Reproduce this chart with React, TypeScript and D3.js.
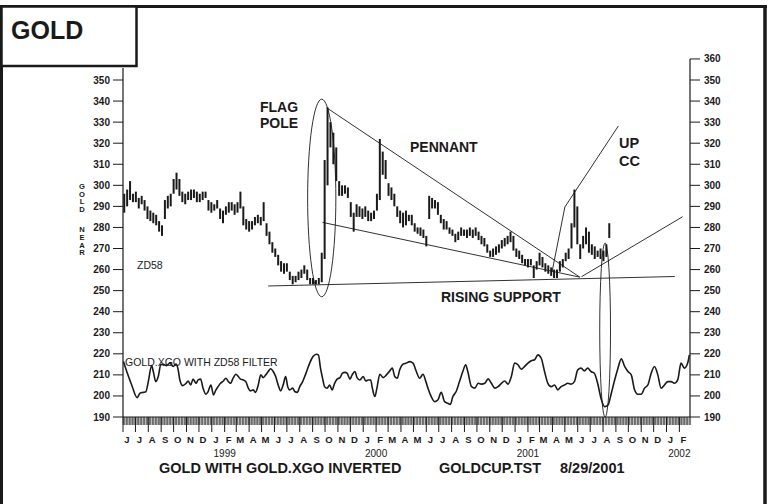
import React from 'react';
import * as d3 from 'd3';

// ---------- data ----------
const START = new Date(1998, 5, 1);
const END = new Date(2002, 2, 1);

// weekly bars (week k starts START + 7k days)
const weeklyLow = [
  287, 290, 293, 292, 292, 289, 291, 288, 284, 283, 282, 281, 278, 276, 284, 289, 290, 296, 298, 295,
  292, 291, 293, 293, 294, 292, 292, 293, 294, 288, 287, 288, 289, 284, 282, 286, 287, 288, 286, 287,
  289, 281, 279, 278, 279, 281, 282, 281, 283, 276, 272, 268, 266, 262, 259, 258, 259, 255, 253, 254,
  255, 256, 258, 255, 253, 253, 253, 253, 254, 265, 300, 318, 310, 302, 295, 295, 296, 294, 285, 278,
  285, 285, 284, 285, 283, 283, 284, 288, 293, 305, 303, 295, 293, 290, 285, 282, 280, 281, 283, 281,
  278, 277, 276, 275, 271, 284, 289, 289, 286, 282, 279, 279, 277, 276, 273, 274, 276, 276, 275, 276,
  275, 276, 274, 272, 271, 268, 266, 266, 267, 268, 270, 271, 272, 273, 269, 266, 265, 263, 262, 261,
  262, 256, 260, 262, 261, 259, 258, 257, 256, 256, 259, 261, 264, 265, 270, 280, 272, 265, 270, 272,
  268, 267, 265, 266, 265, 264, 266, 275,
];
const weeklyHigh = [
  296, 298, 302, 296, 297, 294, 295, 293, 290, 288, 287, 286, 283, 281, 293, 295, 296, 303, 306, 303,
  297, 296, 297, 298, 298, 297, 296, 297, 297, 293, 292, 291, 293, 289, 288, 290, 292, 292, 291, 292,
  297, 290, 284, 283, 283, 285, 286, 285, 292, 282, 278, 273, 270, 267, 264, 263, 263, 259, 257, 257,
  259, 260, 262, 260, 256, 256, 255, 256, 268, 312, 337, 330, 325, 318, 302, 300, 300, 299, 292, 287,
  291, 290, 289, 290, 288, 287, 288, 296, 322, 316, 312, 301, 299, 296, 290, 288, 287, 288, 286, 286,
  282, 280, 280, 279, 276, 295, 294, 293, 292, 286, 284, 283, 280, 279, 277, 278, 280, 279, 279, 280,
  279, 280, 278, 276, 275, 272, 269, 270, 271, 272, 274, 275, 276, 278, 276, 270, 269, 267, 265, 265,
  265, 262, 264, 268, 266, 263, 262, 261, 260, 260, 264, 265, 268, 270, 282, 298, 290, 272, 276, 280,
  278, 272, 271, 269, 270, 269, 272, 282,
];

// oscillator: day offset from START, value
const oscDay = [
  1, 9, 21, 34, 41, 49, 55, 61, 69, 73, 79, 85, 91, 97, 105, 113, 121, 128, 133, 137,
  144, 152, 157, 163, 169, 176, 181, 187, 193, 200, 205, 212, 218, 224, 229, 235, 242, 248, 254, 259,
  266, 272, 278, 283, 290, 296, 302, 307, 314, 319, 326, 332, 338, 344, 350, 356, 362, 368, 374, 380,
  386, 392, 397, 402, 409, 414, 420, 426, 433, 438, 444, 450, 458, 466, 471, 476, 481, 486, 492, 498,
  504, 510, 516, 523, 529, 535, 540, 547, 552, 559, 564, 571, 579, 585, 591, 597, 601, 607, 612,
  619, 627, 635, 643, 649, 655, 661, 667, 675, 683, 691, 699, 707, 715, 723, 730, 735, 743, 751, 759,
  767, 775, 783, 789, 795, 803, 811, 819, 826, 831, 840, 848, 856, 864, 872, 880, 888, 896, 904, 912,
  920, 928, 936, 944, 952, 960, 968, 976, 984, 992, 1000, 1008, 1016, 1024, 1032, 1040, 1048, 1056, 1064, 1072,
  1080, 1088, 1096, 1104, 1112, 1120, 1128, 1136, 1144, 1152, 1161, 1169, 1177, 1185, 1193, 1201, 1209, 1217, 1225, 1233,
  1241, 1249, 1257, 1265, 1273, 1281, 1289, 1297, 1305, 1313, 1321, 1329, 1337, 1345, 1353, 1361, 1365,
];
const oscVal = [
  216.3, 211.6, 205.2, 199.2, 201.3, 201.7, 202, 206.8, 214.4, 211.6, 206.8, 209.2, 214.8, 215, 214.4, 215.6, 214, 215.1, 212.4, 207.6,
  204.9, 206, 207.1, 205.2, 208, 206, 207.6, 208, 203.7, 200.8, 202, 205.2, 200.5, 202.9, 204.4, 206, 207.1, 208.4, 206.8, 206,
  208.7, 210.3, 209.2, 208, 207.6, 206.8, 203.7, 202.4, 202.9, 201.7, 205.2, 210, 208.7, 210, 211.6, 212.9, 211.6, 209.2, 205.2, 202.4,
  205.2, 209.2, 204.4, 202.9, 203.7, 202.1, 201.7, 204.4, 206.8, 209.2, 212.4, 215.6, 218.7, 219.8, 219.5, 213.2, 208.4, 204.4, 203.7, 205.2,
  202.9, 206, 208, 208.7, 210.8, 211.2, 210.8, 208, 209.9, 211.6, 208.7, 207.6, 209.2, 207.1, 207.6, 207.6, 203.7, 199.7, 203.7,
  210.3, 208.7, 210, 211.9, 213.2, 209.2, 208.4, 212.4, 215.1, 215.6, 216.3, 215.6, 211.6, 208.4, 210.3, 206.8, 203.7, 199.7, 197.3, 198.1,
  201.7, 197.3, 196.5, 196, 199.7, 202.1, 206.8, 211.6, 214.8, 211.6, 204.4, 203.7, 206, 205.6, 206, 208.1, 206, 203.7, 204.4, 206,
  207.1, 205.6, 209.2, 215.6, 214.8, 212.7, 214, 215.6, 216.7, 217.2, 219.5, 217.9, 211.6, 206, 204.4, 205.2, 202.9, 204.4, 205.2, 206,
  205.6, 206.8, 212.4, 213.2, 211.9, 213.2, 211.6, 210.8, 206, 198.9, 194.9, 195.7, 201.3, 207.6, 213.2, 217.6, 214, 211.6, 210, 202.9,
  200.8, 200.8, 203.7, 205.2, 210.8, 214, 210, 203.7, 205.2, 206.8, 206.8, 206, 207.6, 215.6, 213.2, 215.6, 219.5,
];

const leftTicks = [350, 340, 330, 320, 310, 300, 290, 280, 270, 260, 250, 240, 230, 220, 210, 200, 190];
const rightTicks = [360, 350, 340, 330, 320, 310, 300, 290, 280, 270, 260, 250, 240, 230, 220, 210, 200, 190];
const monthInitials = ['J', 'F', 'M', 'A', 'M', 'J', 'J', 'A', 'S', 'O', 'N', 'D'];
const yearLabels = ['1999', '2000', '2001', '2002'];
const axisTitleWords = ['GOLD', 'NEAR'];

// annotation anchors: [day offset, price]
const pennantUpper = [[491, 336.8], [1101, 256.4]];
const pennantLower = [[481, 282.4], [1101, 256.4]];
const risingSupport = [[350, 252.2], [1330, 256.7]];
const upCC = [[1034, 258.8], [1065, 289.7], [1194, 328.2]];
const riseLine = [[1105, 256.6], [1349, 285.1]];
const flagEllipse = { day: 479, price: 294, dDays: 34.5, dPrice: 46.9 };
const augEllipse = { day: 1162, price: 231.3, dDays: 13.3, dPrice: 41.3 };

const FONT = "'Liberation Sans', Arial, Helvetica, sans-serif";
const INK = '#1a1a1a';

export default function App() {
  const x = d3.scaleTime().domain([START, END]).range([123, 691]);
  const y = d3.scaleLinear().domain([190, 350]).range([417, 80]);
  const dd = (d: number) => d3.timeDay.offset(START, d);
  const px = (d: number) => x(dd(d));
  const pathOf = (pts: number[][]) =>
    d3.line<number[]>().x((p) => px(p[0])).y((p) => y(p[1]))(pts) || '';

  const oscPts = oscDay.map((d, i) => [d, oscVal[i]]);
  const oscPath = d3.line<number[]>().x((p) => px(p[0])).y((p) => y(p[1])).curve(d3.curveMonotoneX)(oscPts) || '';

  const days = d3.timeDay.range(START, END).filter((d) => d.getDay() !== 0 && d.getDay() !== 6);
  const months = d3.timeMonth.range(START, END);
  const years = months.filter((m) => m.getMonth() === 1);

  const ell = (e: { day: number; price: number; dDays: number; dPrice: number }) => ({
    cx: px(e.day),
    cy: y(e.price),
    rx: px(e.day + e.dDays) - px(e.day),
    ry: y(e.price - e.dPrice) - y(e.price),
  });
  const fe = ell(flagEllipse);
  const ae = ell(augEllipse);

  return (
    <svg width={768} height={504} style={{ position: 'absolute', left: 0, top: 0, background: '#fff' }} fontFamily={FONT}>
      <rect x={0} y={0} width={768} height={504} fill="#fff" />
      {/* frame */}
      <line x1={0} y1={6.5} x2={767} y2={6.5} stroke={INK} strokeWidth={3} />
      <line x1={1.5} y1={5} x2={1.5} y2={504} stroke={INK} strokeWidth={3} />
      <line x1={765} y1={5} x2={765} y2={504} stroke={INK} strokeWidth={3.5} />
      <rect x={1.5} y={6.5} width={135} height={59.5} fill="#fff" stroke={INK} strokeWidth={2.5} />
      <text x={11} y={39} fontSize={25} fontWeight="bold" fill={INK}>GOLD</text>

      {/* left axis */}
      <line x1={123} y1={68} x2={123} y2={417} stroke={INK} strokeWidth={1.2} />
      {leftTicks.map((t) => (
        <g key={'l' + t}>
          <line x1={113} x2={123} y1={y(t)} y2={y(t)} stroke={INK} strokeWidth={1} />
          <text x={110} y={y(t)} dy="0.35em" textAnchor="end" fontSize={10} fontWeight="bold" fill={INK}>{t}</text>
        </g>
      ))}
      {axisTitleWords.map((w, wi) => (
        <text
          key={'t' + wi}
          x={82}
          y={182 + wi * 43.4}
          fontSize={7.6}
          fontWeight="bold"
          fill={INK}
          style={{ writingMode: 'vertical-rl', textOrientation: 'upright', letterSpacing: '-1.4px' }}
        >
          {w}
        </text>
      ))}

      {/* right axis */}
      <line x1={690} y1={y(360)} x2={690} y2={417} stroke={INK} strokeWidth={1.2} />
      {rightTicks.map((t) => (
        <g key={'r' + t}>
          <line x1={690} x2={700} y1={y(t)} y2={y(t)} stroke={INK} strokeWidth={1} />
          <text x={704} y={y(t)} dy="0.35em" textAnchor="start" fontSize={10} fontWeight="bold" fill={INK}>{t}</text>
        </g>
      ))}

      {/* bottom axis */}
      <line x1={123} y1={417} x2={690} y2={417} stroke={INK} strokeWidth={1.2} />
      {days.map((d, i) => (
        <line key={'d' + i} x1={x(d)} x2={x(d)} y1={417} y2={425} stroke="#333" strokeWidth={0.45} />
      ))}
      {months.map((m, i) => (
        <g key={'m' + i}>
          <line x1={x(m)} x2={x(m)} y1={417} y2={432} stroke={INK} strokeWidth={1} />
          <text x={x(m) + 4} y={443} textAnchor="middle" fontSize={9.5} fontWeight="bold" fill={INK}>{monthInitials[m.getMonth()]}</text>
        </g>
      ))}
      {years.map((m, i) => (
        <text key={'y' + i} x={x(m)} y={457} textAnchor="middle" fontSize={10} fill={INK}>{yearLabels[i]}</text>
      ))}
      <text x={159} y={473} fontSize={14.5} fontWeight="bold" fill={INK}>GOLD WITH GOLD.XGO INVERTED</text>
      <text x={439} y={473} fontSize={14.5} fontWeight="bold" fill={INK}>GOLDCUP.TST</text>
      <text x={560} y={473} fontSize={14.5} fontWeight="bold" fill={INK}>8/29/2001</text>

      {/* price bars */}
      {weeklyLow.map((lo, k) => {
        const xx = px(7 * k + 3);
        return <line key={'b' + k} x1={xx} x2={xx} y1={y(lo)} y2={y(weeklyHigh[k])} stroke={INK} strokeWidth={2} />;
      })}

      {/* oscillator */}
      <path d={oscPath} fill="none" stroke={INK} strokeWidth={1.6} />

      {/* annotations */}
      <path d={pathOf(pennantUpper)} fill="none" stroke={INK} strokeWidth={0.9} />
      <path d={pathOf(pennantLower)} fill="none" stroke={INK} strokeWidth={0.9} />
      <path d={pathOf(risingSupport)} fill="none" stroke={INK} strokeWidth={0.9} />
      <path d={pathOf(upCC)} fill="none" stroke={INK} strokeWidth={0.9} />
      <path d={pathOf(riseLine)} fill="none" stroke={INK} strokeWidth={0.9} />
      <ellipse cx={fe.cx} cy={fe.cy} rx={fe.rx} ry={fe.ry} fill="none" stroke={INK} strokeWidth={0.9} />
      <ellipse cx={ae.cx} cy={ae.cy} rx={ae.rx} ry={ae.ry} fill="none" stroke={INK} strokeWidth={0.9} />

      <text x={260} y={112} fontSize={14} fontWeight="bold" fill={INK}>FLAG</text>
      <text x={260} y={128} fontSize={14} fontWeight="bold" fill={INK}>POLE</text>
      <text x={410} y={152} fontSize={14} fontWeight="bold" fill={INK}>PENNANT</text>
      <text x={619} y={148} fontSize={14.5} fontWeight="bold" fill={INK}>UP</text>
      <text x={619} y={166} fontSize={14.5} fontWeight="bold" fill={INK}>CC</text>
      <text x={441} y={302} fontSize={14} fontWeight="bold" fill={INK}>RISING SUPPORT</text>
      <text x={137} y={269} fontSize={10.5} fill={INK}>ZD58</text>
      <text x={125} y={366} fontSize={10.5} fill={INK}>GOLD.XGO WITH ZD58 FILTER</text>
    </svg>
  );
}
